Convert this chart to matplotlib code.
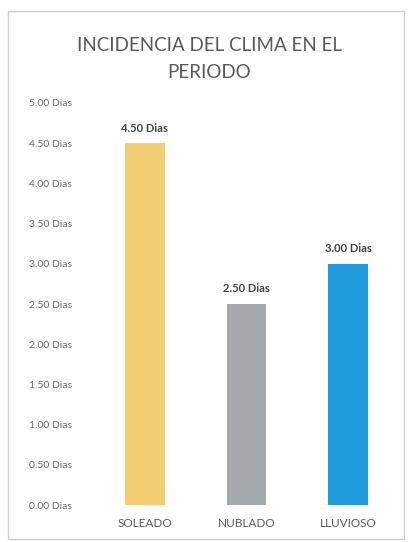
import matplotlib.pyplot as plt
from matplotlib.patches import Rectangle

plt.rcParams['font.family'] = ['Lato', 'DejaVu Sans']

# Datos del grafico
categorias = ['SOLEADO', 'NUBLADO', 'LLUVIOSO']
dias = [4.50, 2.50, 3.00]
colores = ['#F3CD72', '#A6A9AC', '#1F9BDE']
ticks_y = [0.0, 0.5, 1.0, 1.5, 2.0, 2.5, 3.0, 3.5, 4.0, 4.5, 5.0]

fig = plt.figure(figsize=(4.14, 5.42), dpi=100)
ax = fig.add_axes([0.227, 0.068, 0.737, 0.742])

# Marco exterior del grafico
fig.patches.append(Rectangle((0.02, 0.005), 0.955, 0.975, transform=fig.transFigure,
                             fill=False, edgecolor='#D0D0D0', linewidth=1.0))

x = range(len(categorias))
barras = ax.bar(x, dias, width=0.39, color=colores)

for xi, v in zip(x, dias):
    ax.text(xi, v + 0.12, f'{v:.2f} Dias', ha='center', va='bottom',
            fontsize=8, fontweight='bold', color='#404040')

ax.set_xlim(-0.5, 2.5)
ax.set_ylim(0, 5)
ax.set_yticks(ticks_y)
ax.set_yticklabels([f'{t:.2f} Dias' for t in ticks_y], fontsize=7.5, color='#6A6A6A')
ax.set_xticks(list(x))
ax.set_xticklabels(categorias, fontsize=8.5, color='#5A5A5A')
ax.tick_params(axis='y', length=0, pad=16)
ax.tick_params(axis='x', length=0, pad=9)
for s in ax.spines.values():
    s.set_visible(False)

fig.text(0.505, 0.891, 'INCIDENCIA DEL CLIMA EN EL\nPERIODO', ha='center', va='center',
         fontsize=13.5, color='#595959', linespacing=1.7)

fig.savefig('out.png', dpi=100)
